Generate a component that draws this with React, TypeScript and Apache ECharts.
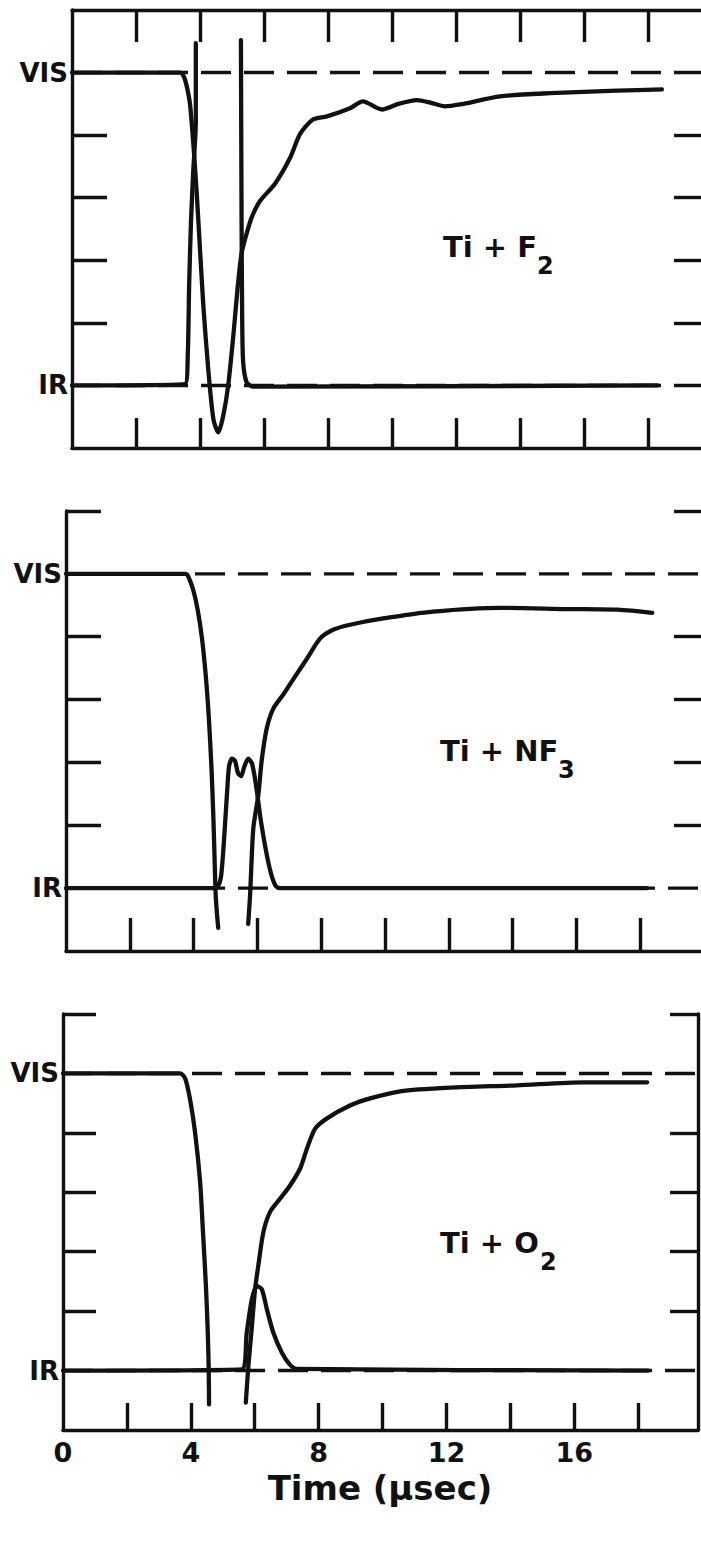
import React, { useEffect, useRef } from 'react';
import * as echarts from 'echarts';

// ---------- data ----------
const xTickValues = [2, 4, 6, 8, 10, 12, 14, 16, 18];
const xLabelValues = [0, 4, 8, 12, 16];
const yInnerTicks = [1, 2, 3, 4];
const levelValues = [0, 5];
const levelNames = ['IR', 'VIS'];
const panelNames = ['Ti + F', 'Ti + NF', 'Ti + O'];
const panelSubs = ['2', '3', '2'];
const xTitle = 'Time (\u03bcsec)';

// Ti + F2
const f2Vis: number[][] = [
  [0, 5], [3.375, 5], [3.5, 4.93], [3.6, 4.75], [3.69, 4.49], [3.84, 3.53], [3.95, 2.63], [4.1, 1.31],
  [4.26, 0.25], [4.42, -0.54], [4.57, -0.75], [4.72, -0.5], [4.88, -0.01], [5.04, 0.78], [5.18, 1.58],
  [5.3, 2.11], [5.46, 2.43], [5.62, 2.69], [5.88, 2.95], [6.34, 3.22], [6.81, 3.63], [7.13, 4.02],
  [7.53, 4.25], [7.97, 4.3], [8.69, 4.43], [9.09, 4.54], [9.69, 4.41], [10.2, 4.5], [10.78, 4.56],
  [11.2, 4.52], [11.66, 4.46], [12.13, 4.49], [13.38, 4.62], [14.94, 4.67], [17.03, 4.71], [18.44, 4.73],
];
const f2IrRise: number[][] = [
  [0, 0], [3.53, 0.02], [3.62, 0.52], [3.66, 1.57], [3.72, 2.63], [3.79, 3.43], [3.87, 4.22], [3.87, 5.47],
];
const f2IrFall: number[][] = [
  [5.28, 5.52], [5.3, 2.63], [5.32, 1.05], [5.35, 0.37], [5.46, 0.05], [5.67, -0.02], [18.3, 0],
];

// Ti + NF3
const nf3VisDrop: number[][] = [
  [0, 5], [3.76, 5], [3.88, 4.9], [4.0, 4.72], [4.13, 4.42], [4.26, 3.98], [4.38, 3.38], [4.48, 2.68],
  [4.56, 1.9], [4.62, 1.1], [4.66, 0.4], [4.69, -0.1], [4.73, -0.4], [4.77, -0.63],
];
const nf3VisRise: number[][] = [
  [5.71, -0.57], [5.77, -0.1], [5.87, 0.95], [6.03, 1.49], [6.13, 2.02], [6.29, 2.54], [6.5, 2.86],
  [6.81, 3.08], [7.13, 3.33], [7.55, 3.65], [7.96, 3.97], [8.37, 4.11], [8.9, 4.19], [9.94, 4.29],
  [11.5, 4.4], [13.61, 4.46], [15.71, 4.44], [17.27, 4.43], [18.37, 4.38],
];
const nf3Ir: number[][] = [
  [0, 0], [4.61, 0], [4.76, 0.03], [4.86, 0.19], [4.95, 0.75], [5.05, 1.54], [5.11, 1.94], [5.2, 2.06],
  [5.3, 2.02], [5.39, 1.83], [5.49, 1.78], [5.58, 1.92], [5.71, 2.06], [5.83, 1.98], [5.96, 1.62],
  [6.11, 1.06], [6.3, 0.51], [6.46, 0.17], [6.58, 0.03], [6.71, 0], [18.2, 0],
];

// Ti + O2
const o2VisDrop: number[][] = [
  [0, 5], [3.66, 5], [3.82, 4.92], [3.97, 4.58], [4.13, 4.02], [4.29, 3.18], [4.38, 2.33], [4.47, 1.45],
  [4.53, 0.65], [4.56, 0], [4.57, -0.57],
];
const o2VisRise: number[][] = [
  [5.72, -0.54], [5.8, 0.07], [5.91, 0.74], [6.01, 1.37], [6.11, 1.76], [6.27, 2.33], [6.48, 2.67],
  [6.79, 2.89], [7.1, 3.11], [7.42, 3.4], [7.63, 3.73], [7.89, 4.07], [8.25, 4.24], [8.98, 4.46],
  [9.61, 4.58], [10.55, 4.7], [12.11, 4.76], [14.21, 4.8], [16.28, 4.85], [18.28, 4.85],
];
const o2Ir: number[][] = [
  [0, 0], [5.59, 0.02], [5.75, 0.64], [5.91, 1.2], [6.06, 1.42], [6.22, 1.37], [6.38, 1.03], [6.58, 0.64],
  [6.85, 0.3], [7.1, 0.1], [7.31, 0.03], [18.31, 0],
];

const panelTraces = [
  [f2Vis, f2IrRise, f2IrFall],
  [nf3VisDrop, nf3VisRise, nf3Ir],
  [o2VisDrop, o2VisRise, o2Ir],
];

// ---------- layout / style ----------
const INK = '#111';
const FONT = '"DejaVu Sans", sans-serif';
const grids = [
  { left: 72, top: 10, width: 629, height: 438 },
  { left: 66, top: 511, width: 635, height: 440 },
  { left: 63, top: 1014, width: 635, height: 416 },
];
const xMax = [19.66, 19.9, 19.87];
const bottomTickLen = [30, 33, 27];
const leftTickLen = [35, 35, 33];
const rightTickLen = [27, 27, 28];
const textPos = [
  { x: 443, y: 247, sx: 537, sy: 266 },
  { x: 440, y: 751, sx: 558, sy: 770 },
  { x: 440, y: 1243, sx: 540, sy: 1262 },
];

function buildOption() {
  const xAxis: any[] = [];
  const yAxis: any[] = [];
  const series: any[] = [];
  const lineStyle = { color: INK, width: 3.4 };

  grids.forEach((g, i) => {
    const bottomIndex = xAxis.length;
    xAxis.push({
      gridIndex: i, type: 'value', min: 0, max: xMax[i], position: 'bottom',
      axisLine: { show: true, onZero: false, lineStyle },
      axisTick: { show: true, inside: true, length: bottomTickLen[i], customValues: xTickValues, lineStyle },
      axisLabel: i === 2
        ? { show: true, customValues: xLabelValues, fontSize: 27, fontWeight: 'bold', fontFamily: FONT, color: INK, margin: 9 }
        : { show: false },
      splitLine: { show: false },
    });
    if (i === 0) {
      xAxis.push({
        gridIndex: i, type: 'value', min: 0, max: xMax[i], position: 'top',
        axisLine: { show: true, onZero: false, lineStyle },
        axisTick: { show: true, inside: true, length: 32, customValues: xTickValues, lineStyle },
        axisLabel: { show: false },
        splitLine: { show: false },
      });
    }
    const leftIndex = yAxis.length;
    const extraTicks = i === 0 ? yInnerTicks : [...yInnerTicks, 6];
    yAxis.push({
      gridIndex: i, type: 'value', min: -1, max: 6, position: 'left',
      axisLine: { show: true, onZero: false, lineStyle },
      axisTick: { show: true, inside: true, length: leftTickLen[i], customValues: extraTicks, lineStyle },
      axisLabel: {
        show: true, customValues: levelValues, fontSize: 26, fontWeight: 'bold', fontFamily: FONT, color: INK, margin: 4,
        formatter: (v: number) => levelNames[levelValues.indexOf(v)] ?? '',
      },
      splitLine: { show: false },
    });
    yAxis.push({
      gridIndex: i, type: 'value', min: -1, max: 6, position: 'right',
      axisLine: { show: i === 2, onZero: false, lineStyle },
      axisTick: { show: true, inside: true, length: rightTickLen[i], customValues: extraTicks, lineStyle },
      axisLabel: { show: false },
      splitLine: { show: false },
    });

    // dashed reference levels
    levelValues.forEach((lv) => {
      series.push({
        type: 'line', xAxisIndex: bottomIndex, yAxisIndex: leftIndex,
        data: [[0, lv], [xMax[i], lv]], showSymbol: false, silent: true,
        lineStyle: { color: INK, width: 3.4, type: [30, 13] },
      });
    });
    // traces
    panelTraces[i].forEach((d) => {
      series.push({
        type: 'line', xAxisIndex: bottomIndex, yAxisIndex: leftIndex,
        data: d, showSymbol: false, smooth: 0.25, silent: true,
        lineStyle: { color: INK, width: 4.3, cap: 'round', join: 'round' },
      });
    });
  });

  const graphic: any[] = [];
  textPos.forEach((p, i) => {
    graphic.push({
      type: 'text', x: p.x, y: p.y,
      style: { text: panelNames[i], fill: INK, fontSize: 29, fontWeight: 'bold', fontFamily: FONT, textAlign: 'left', textVerticalAlign: 'middle' },
    });
    graphic.push({
      type: 'text', x: p.sx, y: p.sy,
      style: { text: panelSubs[i], fill: INK, fontSize: 24, fontWeight: 'bold', fontFamily: FONT, textAlign: 'left', textVerticalAlign: 'middle' },
    });
  });
  graphic.push({
    type: 'text', x: 380, y: 1488,
    style: { text: xTitle, fill: INK, fontSize: 34, fontWeight: 'bold', fontFamily: FONT, textAlign: 'center', textVerticalAlign: 'middle' },
  });

  return {
    animation: false,
    backgroundColor: '#fff',
    grid: grids,
    xAxis, yAxis, series, graphic,
  };
}

export default function App() {
  const ref = useRef<HTMLDivElement>(null);
  useEffect(() => {
    const chart = echarts.init(ref.current!, null, { renderer: 'svg' });
    chart.setOption(buildOption() as any);
    return () => chart.dispose();
  }, []);
  return (
    <div
      ref={ref}
      style={{ position: 'absolute', left: 0, top: 0, width: 701, height: 1548, background: '#fff' }}
    />
  );
}
